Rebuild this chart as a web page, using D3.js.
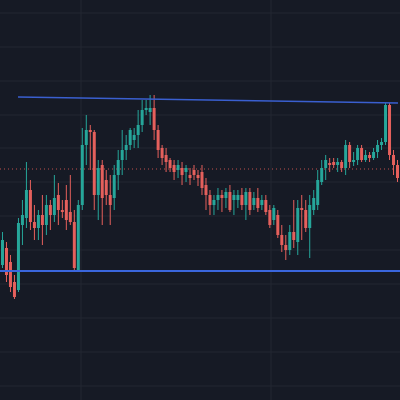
<!DOCTYPE html>
<html><head><meta charset="utf-8">
<script src="https://cdn.jsdelivr.net/npm/d3@7"></script>
<style>html,body{margin:0;padding:0;background:#161a25;}</style>
</head><body><svg id="c" width="400" height="400"></svg>
<script>
const open=[135,152,138,118,110,175,182,210,178,172,185,175,195,185,205,190,200,188,178,130,195,255,270,268,205,235,220,205,202,225,240,250,255,260,265,275,290,288,292,270,252,245,240,235,230,232,228,225,230,225,228,215,205,195,200,205,202,208,200,200,205,195,208,195,202,195,200,190,180,185,165,155,150,168,158,192,190,172,190,195,218,232,237,238,235,238,232,255,238,240,252,240,245,242,248,255,258,295,245,235];
const close=[160,125,113,103,177,185,210,178,172,185,175,195,185,202,190,188,180,178,132,195,255,270,268,205,232,202,205,195,225,240,250,255,270,265,275,290,292,292,270,250,242,238,232,228,235,225,232,222,225,222,212,205,195,200,205,202,208,190,205,205,195,208,190,202,192,200,188,175,192,165,155,150,168,160,192,190,172,195,202,220,232,240,235,235,238,232,255,238,240,252,240,245,242,248,255,258,295,245,235,222];
const high=[168,158,145,125,182,200,238,220,195,190,205,205,200,225,217,200,215,225,190,200,272,285,275,270,240,240,230,225,235,250,270,265,272,272,290,300,300,305,305,275,255,252,242,240,240,238,235,232,235,230,235,222,210,205,212,210,212,215,210,210,212,212,212,208,212,205,205,195,195,190,175,165,175,200,200,205,200,205,210,230,240,245,242,242,242,240,260,258,248,255,255,250,248,252,260,262,297,297,250,240];
const low=[132,118,108,101,108,155,172,170,160,160,155,165,170,178,175,182,170,175,130,128,190,235,230,190,180,175,195,175,190,210,225,240,250,252,252,268,285,275,260,242,235,228,228,220,222,215,218,215,220,214,205,190,185,185,190,188,192,188,185,192,190,180,185,190,188,190,185,172,175,162,148,140,145,152,145,160,168,142,185,190,215,220,228,232,228,228,225,232,234,235,238,238,238,240,242,250,255,240,225,218];
const supportLevel=129, lastPrice=231;
const trendIdx=[4.5,99.5], trendVal=[303,297];
const gridPrices=[387,353,319,285,252,218,184,150,116,82,48,14];
const gridIdx=[20.25,67.75];

const svg=d3.select("#c");
const idx=d3.range(open.length);
const x=d3.scaleBand().domain(idx).range([0,400]).padding(0.25);
const xc=d3.scaleLinear().domain([0,open.length]).range([0,400]);
const y=d3.scaleLinear().domain([0,400]).range([400,0]);
svg.append("rect").attr("width",400).attr("height",400).attr("fill","#161a25");
svg.selectAll(".gh").data(gridPrices).join("line").attr("x1",0).attr("x2",400)
 .attr("y1",d=>y(d)).attr("y2",d=>y(d)).attr("stroke","#222633").attr("stroke-width",1);
svg.selectAll(".gv").data(gridIdx).join("line").attr("y1",0).attr("y2",400)
 .attr("x1",d=>xc(d)).attr("x2",d=>xc(d)).attr("stroke","#222633").attr("stroke-width",1);
svg.append("line").attr("x1",0).attr("x2",400).attr("y1",y(lastPrice)).attr("y2",y(lastPrice))
 .attr("stroke","#c0504d").attr("stroke-dasharray","1,3").attr("stroke-width",1);
const col=i=>close[i]>=open[i]?"#26a69a":"#e5605c";
const g=svg.append("g");
g.selectAll(".w").data(idx).join("line")
 .attr("x1",i=>x(i)+x.bandwidth()/2).attr("x2",i=>x(i)+x.bandwidth()/2)
 .attr("y1",i=>y(high[i])).attr("y2",i=>y(low[i])).attr("stroke",col).attr("stroke-width",1);
g.selectAll(".b").data(idx).join("rect")
 .attr("x",i=>x(i)).attr("width",x.bandwidth())
 .attr("y",i=>y(Math.max(open[i],close[i])))
 .attr("height",i=>Math.max(1,Math.abs(y(open[i])-y(close[i])))).attr("fill",col);
svg.append("line").attr("x1",xc(trendIdx[0])).attr("x2",xc(trendIdx[1]))
 .attr("y1",y(trendVal[0])).attr("y2",y(trendVal[1])).attr("stroke","#3a5fd0").attr("stroke-width",1.5);
svg.append("line").attr("x1",0).attr("x2",400).attr("y1",y(supportLevel)).attr("y2",y(supportLevel))
 .attr("stroke","#3a66dd").attr("stroke-width",2.2);
</script></body></html>
